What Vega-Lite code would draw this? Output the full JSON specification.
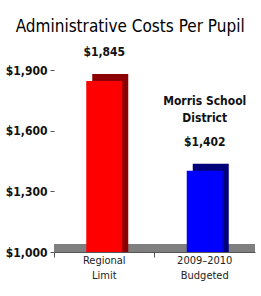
{
  "$schema": "https://vega.github.io/schema/vega-lite/v6.json",
  "width": 261,
  "height": 296,
  "autosize": {"type": "fit", "contains": "padding"},
  "padding": {"left": 5, "right": 6, "top": 25, "bottom": 16},
  "background": "white",
  "title": {
    "text": "Administrative Costs Per Pupil",
    "font": "DejaVu Sans Condensed",
    "fontSize": 17,
    "fontWeight": "normal",
    "color": "#000000",
    "anchor": "middle",
    "frame": "bounds",
    "offset": 10
  },
  "data": {
    "values": [
      {"category": "Regional Limit", "cost": 1845, "label": "$1,845", "note": ""},
      {"category": "2009–2010 Budgeted", "cost": 1402, "label": "$1,402", "note": "Morris School|District"}
    ]
  },
  "encoding": {
    "x": {
      "field": "category",
      "type": "nominal",
      "sort": null,
      "scale": {"paddingInner": 0, "paddingOuter": 0},
      "axis": {
        "title": null,
        "labelAngle": 0,
        "labelExpr": "split(datum.label, ' ')",
        "labelFont": "DejaVu Sans Condensed",
        "labelFontSize": 11,
        "labelColor": "#222222",
        "labelLineHeight": 15,
        "labelPadding": -3,
        "domainColor": "#555555",
        "tickColor": "#555555",
        "bandPosition": 0,
        "tickSize": 5
      }
    }
  },
  "layer": [
    {
      "mark": {"type": "rect", "color": "#7f7f7f"},
      "encoding": {
        "x": null,
        "y": {"datum": 1000, "type": "quantitative"},
        "y2": {"datum": 1040}
      }
    },
    {
      "mark": {"type": "bar", "width": 36, "xOffset": 6, "yOffset": -7},
      "encoding": {
        "y": {
          "field": "cost",
          "type": "quantitative",
          "scale": {"domain": [1000, 1900], "zero": false, "nice": false},
          "axis": {
            "title": null,
            "values": [1000, 1300, 1600, 1900],
            "format": "$,.0f",
            "grid": false,
            "domain": false,
            "labelFont": "DejaVu Sans Condensed",
            "labelFontSize": 12,
            "labelFontWeight": "bold",
            "labelColor": "#111111",
            "tickColor": "#555555",
            "tickSize": 4,
            "labelPadding": 3
          }
        },
        "y2": {"datum": 1000},
        "color": {
          "field": "category",
          "type": "nominal",
          "scale": {"domain": ["Regional Limit", "2009–2010 Budgeted"], "range": ["#8b0000", "#00007a"]},
          "legend": null
        }
      }
    },
    {
      "mark": {"type": "bar", "width": 36},
      "encoding": {
        "y": {"field": "cost", "type": "quantitative"},
        "y2": {"datum": 1000},
        "color": {
          "field": "category",
          "type": "nominal",
          "scale": {"domain": ["Regional Limit", "2009–2010 Budgeted"], "range": ["#ff0000", "#0000ff"]},
          "legend": null
        }
      }
    },
    {
      "mark": {"type": "text", "dy": -22, "font": "DejaVu Sans Condensed", "fontSize": 12, "fontWeight": "bold", "color": "#111111", "baseline": "bottom"},
      "encoding": {
        "y": {"field": "cost", "type": "quantitative"},
        "text": {"field": "label"}
      }
    },
    {
      "transform": [{"filter": "datum.note != ''"}],
      "mark": {"type": "text", "dy": -63, "font": "DejaVu Sans Condensed", "fontSize": 12, "fontWeight": "bold", "color": "#111111", "baseline": "bottom", "lineBreak": "|", "lineHeight": 17},
      "encoding": {
        "y": {"field": "cost", "type": "quantitative"},
        "text": {"field": "note"}
      }
    }
  ],
  "resolve": {"scale": {"color": "independent"}},
  "config": {"view": {"stroke": null}}
}
